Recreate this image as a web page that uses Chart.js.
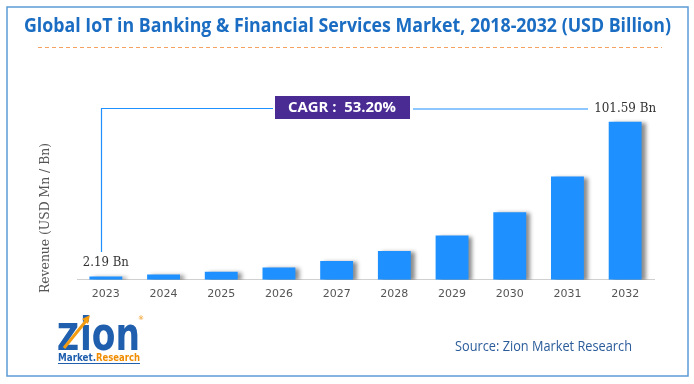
<!DOCTYPE html>
<html>
<head>
<meta charset="utf-8">
<script src="https://cdn.jsdelivr.net/npm/chart.js@4"></script>
<style>
  html, body { margin: 0; padding: 0; background: #fff; }
  #wrap { position: relative; width: 694px; height: 384px; }
</style>
</head>
<body>
<div id="wrap"><canvas id="bar_chart" width="694" height="384"></canvas></div>
<script>
const years = ['2023', '2024', '2025', '2026', '2027', '2028', '2029', '2030', '2031', '2032'];
const revenue = [2.19, 3.4, 5.1, 7.9, 12.1, 18.5, 28.4, 43.4, 66.3, 101.59];
const firstLabel = '2.19 Bn';
const lastLabel = '101.59 Bn';
const cagrText = 'CAGR :  53.20%';
const titleText = 'Global IoT in Banking & Financial Services Market, 2018-2032 (USD Billion)';
const yTitle = 'Revenue (USD Mn / Bn)';
const sourceText = 'Source: Zion Market Research';

// draws text squeezed/stretched to a given width (and optional vertical stretch)
function fitText(ctx, txt, x, y, w, sy) {
  const m = ctx.measureText(txt).width;
  ctx.save();
  ctx.translate(x, y);
  ctx.scale(w / m, sy || 1);
  ctx.fillText(txt, 0, 0);
  ctx.restore();
}

const decor = {
  id: 'decor',
  beforeDatasetsDraw(chart) {
    const ctx = chart.ctx;
    ctx.save();
    ctx.shadowColor = 'rgba(0,0,0,0.45)';
    ctx.shadowOffsetX = 4;
    ctx.shadowOffsetY = 1;
    ctx.shadowBlur = 4;
  },
  afterDatasetsDraw(chart) {
    const ctx = chart.ctx;
    ctx.restore();
    const meta = chart.getDatasetMeta(0);
    const b0 = meta.data[0];
    const bN = meta.data[meta.data.length - 1];

    // outer frame
    ctx.save();
    ctx.strokeStyle = '#5b9bd5';
    ctx.lineWidth = 1.5;
    ctx.strokeRect(7, 7, 681, 369);

    // title
    ctx.fillStyle = '#1a6dc2';
    ctx.font = 'bold 19px "Open Sans"';
    ctx.textBaseline = 'middle';
    fitText(ctx, titleText, 24, 27, 647);

    // dashed orange rule
    ctx.strokeStyle = '#f4a261';
    ctx.lineWidth = 1;
    ctx.setLineDash([4, 3]);
    ctx.beginPath();
    ctx.moveTo(38, 47.5);
    ctx.lineTo(662, 47.5);
    ctx.stroke();
    ctx.setLineDash([]);

    // CAGR connector lines
    ctx.strokeStyle = '#1e90ff';
    ctx.lineWidth = 1.2;
    ctx.beginPath();
    ctx.moveTo(101.5, 252);
    ctx.lineTo(101.5, 108.5);
    ctx.lineTo(273, 108.5);
    ctx.moveTo(413, 109);
    ctx.lineTo(588, 109);
    ctx.stroke();

    // CAGR box
    ctx.fillStyle = '#4a2b94';
    ctx.fillRect(275, 96, 135, 23);
    ctx.fillStyle = '#ffffff';
    ctx.font = 'bold 15px "Open Sans"';
    fitText(ctx, cagrText, 288, 108, 108);

    // value labels
    ctx.fillStyle = '#333333';
    ctx.font = '12px "DejaVu Serif"';
    fitText(ctx, firstLabel, b0.x - 23, 263, 46);
    fitText(ctx, lastLabel, bN.x - 31, 109, 62);

    // y axis title
    ctx.save();
    ctx.translate(46, 218);
    ctx.rotate(-Math.PI / 2);
    ctx.fillStyle = '#555555';
    ctx.font = '12px "DejaVu Serif"';
    ctx.textAlign = 'left';
    const tw = ctx.measureText(yTitle).width;
    ctx.scale(150 / tw, 1);
    ctx.fillText(yTitle, -tw / 2, 0);
    ctx.restore();

    // source
    ctx.fillStyle = '#2a5c9a';
    ctx.font = '14px "Open Sans"';
    fitText(ctx, sourceText, 455, 347, 177);

    // logo
    ctx.fillStyle = '#1f5fae';
    ctx.font = 'bold 30px "DejaVu Sans"';
    ctx.textBaseline = 'alphabetic';
    fitText(ctx, 'Z', 57, 350, 22, 1.25);
    fitText(ctx, 'ion', 80, 350, 60, 1.55);
    ctx.strokeStyle = '#f39c12';
    ctx.lineWidth = 3;
    ctx.beginPath();
    ctx.moveTo(64, 348);
    ctx.lineTo(86, 321);
    ctx.stroke();
    ctx.fillStyle = '#f39c12';
    ctx.beginPath();
    ctx.moveTo(90, 315);
    ctx.lineTo(82, 319);
    ctx.lineTo(88, 324);
    ctx.fill();
    ctx.font = 'bold 11px "DejaVu Sans"';
    ctx.fillStyle = '#1f5fae';
    fitText(ctx, 'Market.', 58, 361, 38);
    ctx.fillStyle = '#f08c00';
    fitText(ctx, 'Research', 96, 361, 44);
    ctx.strokeStyle = '#1f5fae';
    ctx.lineWidth = 1;
    ctx.beginPath();
    ctx.moveTo(58, 363.5);
    ctx.lineTo(140, 363.5);
    ctx.stroke();
    ctx.font = '6px "DejaVu Sans"';
    ctx.fillStyle = '#f08c00';
    ctx.fillText('®', 138, 320);
    ctx.restore();
  }
};

const ctx = document.getElementById('bar_chart').getContext('2d');
const chart = new Chart(ctx, {
  type: 'bar',
  data: {
    labels: years,
    datasets: [{
      data: revenue,
      backgroundColor: '#1e90ff',
      borderWidth: 0,
      categoryPercentage: 1,
      barPercentage: 0.57
    }]
  },
  options: {
    responsive: false,
    animation: false,
    devicePixelRatio: 1,
    layout: { padding: { left: 77, right: 40, top: 93, bottom: 75 } },
    plugins: {
      legend: { display: false },
      tooltip: { enabled: false }
    },
    scales: {
      x: {
        grid: { display: false, drawTicks: false },
        border: { display: true, color: '#d0d0d0' },
        ticks: { color: '#555', padding: 8, font: { family: 'DejaVu Sans', size: 11 } }
      },
      y: {
        display: false,
        min: 0,
        max: 120
      }
    }
  },
  plugins: [decor]
});
</script>
</body>
</html>
